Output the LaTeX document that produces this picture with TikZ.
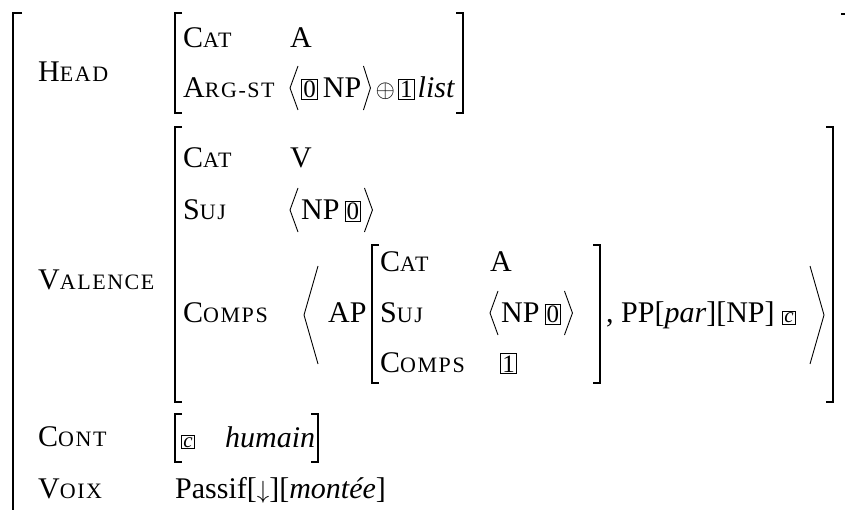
\documentclass[tikz,border=0pt]{standalone}
\usepackage{fontspec}
\setmainfont{Liberation Serif}
\newfontfamily\scsp[LetterSpace=7]{Liberation Serif}
\usetikzlibrary{positioning}
\newcommand{\fsc}[2]{#1{\scsp\fontsize{22}{22}\selectfont #2}}
\newcommand{\tg}[1]{{\setlength{\fboxsep}{1.2pt}\setlength{\fboxrule}{0.9pt}\fbox{\fontsize{25}{25}\selectfont #1}}}
\newcommand{\tgs}[1]{{\setlength{\fboxsep}{1.2pt}\setlength{\fboxrule}{0.9pt}\fbox{\fontsize{21}{21}\selectfont\itshape #1}}}

\begin{document}
\begin{tikzpicture}[x=1pt, y=-1pt,
  every node/.style={font=\fontsize{30}{34}\selectfont},
  feat/.style={anchor=west, inner sep=0pt, text height=20pt, text depth=0pt},
  brk/.style={line width=1.5pt},
  ang/.style={line width=0.9pt}]
\useasboundingbox (0,0) rectangle (845,510);
\draw[brk] (22,13) -- (13,13) -- (13,510);
\draw[brk] (841,14) -- (845,14);
\node[feat] (head) at (38,72) {\fsc{H}{EAD}};
\node[feat] (valence) at (38,280) {\fsc{V}{ALENCE}};
\node[feat] (cont) at (38,436) {\fsc{C}{ONT}};
\node[feat] (voix) at (38,488) {\fsc{V}{OIX}};

\draw[brk] (182,13) -- (175,13) -- (175,113) -- (182,113);
\draw[brk] (456,13) -- (463,13) -- (463,113) -- (456,113);
\node[feat] (hcat) at (183,38) {\fsc{C}{AT}};
\node[feat] (hcatval) at (290,38) {A};
\node[feat] (hargst) at (183,88) {\fsc{A}{RG-ST}};
\node[feat] (hargval) at (301,88) {\tg{0}\,NP};
\node[feat, right=14pt of hargval] (hlist) {$\oplus$\hspace{3pt}\tg{1}\hspace{3pt}\textit{list}};
\draw[ang] ([shift={(-3,-22)}]hargval.west) -- ++(-8,22) -- ++(8,22);
\draw[ang] ([shift={(2,-22)}]hargval.east) -- ++(7,22) -- ++(-7,22);

\draw[brk] (182,127) -- (175,127) -- (175,402) -- (182,402);
\draw[brk] (826,127) -- (833,127) -- (833,402) -- (826,402);
\node[feat] (vcat) at (183,158) {\fsc{C}{AT}};
\node[feat] (vcatval) at (290,158) {V};
\node[feat] (vsuj) at (183,210) {\fsc{S}{UJ}};
\node[feat] (vsujval) at (301,210) {NP\,\tg{0}};
\draw[ang] ([shift={(-3,-22)}]vsujval.west) -- ++(-8,22) -- ++(8,22);
\draw[ang] ([shift={(3,-22)}]vsujval.east) -- ++(8,22) -- ++(-8,22);
\node[feat] (vcomps) at (183,313) {\fsc{C}{OMPS}};
\node[feat] (ap) at (328,313) {AP};
\draw[ang] (318,266) -- (304,315) -- (318,364);

\draw[brk] (379,245) -- (372,245) -- (372,383) -- (379,383);
\draw[brk] (593,245) -- (600,245) -- (600,383) -- (593,383);
\node[feat] (icat) at (380,262) {\fsc{C}{AT}};
\node[feat] (icatval) at (490,262) {A};
\node[feat] (isuj) at (380,313) {\fsc{S}{UJ}};
\node[feat] (isujval) at (501,313) {NP\,\tg{0}};
\draw[ang] ([shift={(-3,-22)}]isujval.west) -- ++(-8,22) -- ++(8,22);
\draw[ang] ([shift={(3,-22)}]isujval.east) -- ++(8,22) -- ++(-8,22);
\node[feat] (icomps) at (380,362) {\fsc{C}{OMPS}};
\node[feat] (icompsval) at (500,362) {\tg{1}};
\node[feat] (pp) at (606,313) {, PP[\textit{par}][NP] \tgs{c}};
\draw[ang] (810,266) -- (824,315) -- (810,364);

\draw[brk] (182,414) -- (175,414) -- (175,462) -- (182,462);
\draw[brk] (311,414) -- (318,414) -- (318,462) -- (311,462);
\node[feat] (contc) at (181,437) {\tgs{c}};
\node[feat] (conthum) at (225,437) {\textit{humain}};
\node[feat] (voixval) at (175,488) {Passif[$\downarrow$][\textit{montée}]};
\end{tikzpicture}
\end{document}
